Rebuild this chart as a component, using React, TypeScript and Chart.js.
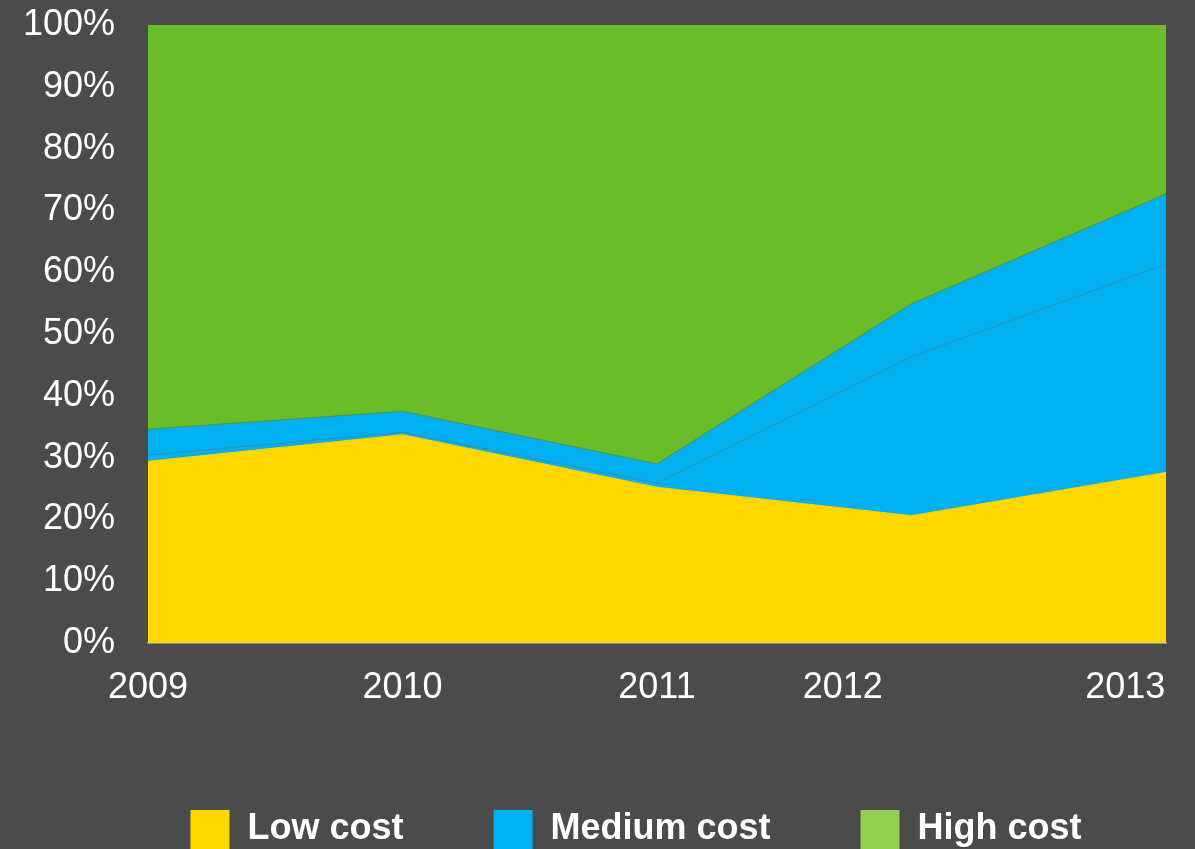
import React, { useEffect, useRef } from 'react';
import { Chart, registerables } from 'chart.js';

Chart.register(...registerables);

// ---- data ----
const categories = ['2009', '2010', '2011', '2012', '2013'];
const xTickLabels = ['2009', '2010', '2011', '2012', '2013'];
const xTickPositions = [0, 1, 2, 2.73, 3.84];
const lowCost = [29.4, 33.7, 25.2, 20.6, 27.6];
const mediumCostLower = [1.0, 0.4, 0.7, 25.7, 33.7];
const mediumCostUpper = [4.2, 3.4, 3.1, 8.6, 11.4];
const highCost = [65.4, 62.5, 71.0, 45.1, 27.3];
const legendNames = ['Low cost', 'Medium cost', 'High cost'];

// ---- styles ----
const BG = '#4B4B4B';
const LOW = '#FFD800';
const MED = '#00B0F0';
const HIGH = '#6ABD28';
const HIGH_LEGEND = '#92D050';
const legendColors = [LOW, MED, HIGH_LEGEND];
const FONT = "'Liberation Sans', Arial, sans-serif";

const toPoints = (arr: number[]) => arr.map((v, i) => ({ x: i, y: v }));

export default function App() {
  const ref = useRef<HTMLCanvasElement>(null);

  useEffect(() => {
    const canvas = ref.current;
    if (!canvas) return;
    const chart = new Chart(canvas, {
      type: 'line',
      data: {
        labels: categories,
        datasets: [
          { label: 'Low cost', data: toPoints(lowCost), backgroundColor: LOW, borderColor: LOW, borderWidth: 1, pointRadius: 0, fill: 'origin' },
          { label: 'Medium cost', data: toPoints(mediumCostLower), backgroundColor: MED, borderColor: '#2E94BC', borderWidth: 1, pointRadius: 0, fill: '-1' },
          { label: 'Medium cost ', data: toPoints(mediumCostUpper), backgroundColor: MED, borderColor: '#4E9C3E', borderWidth: 1, pointRadius: 0, fill: '-1' },
          { label: 'High cost', data: toPoints(highCost), backgroundColor: HIGH, borderColor: HIGH, borderWidth: 1, pointRadius: 0, fill: '-1' },
        ],
      },
      options: {
        responsive: false,
        animation: false,
        devicePixelRatio: 1,
        events: [],
        layout: { padding: { top: 25, left: 22, right: 0, bottom: 0 } },
        plugins: {
          tooltip: { enabled: false },
          legend: {
            position: 'bottom',
            align: 'center',
            labels: {
              boxWidth: 39,
              boxHeight: 39,
              padding: 90,
              color: '#FFFFFF',
              font: { family: FONT, size: 36, weight: 'bold' },
              generateLabels: () =>
                legendNames.map((t, i) => ({
                  text: t, fillStyle: legendColors[i], strokeStyle: legendColors[i], lineWidth: 0, hidden: false, fontColor: '#FFFFFF', datasetIndex: i,
                })),
            },
          },
        },
        scales: {
          x: {
            type: 'linear', min: 0, max: 4,
            afterBuildTicks: (s: any) => { s.ticks = xTickPositions.map((v) => ({ value: v })); },
            afterFit: (s: any) => { s.height = 77; },
            ticks: { autoSkip: false, maxRotation: 0, padding: 14, color: '#FFFFFF', font: { family: FONT, size: 36, lineHeight: 1.75 }, callback: (_v: any, i: number) => xTickLabels[i] },
            grid: { display: false, drawTicks: false },
            border: { display: true, color: '#8C8C8C', width: 2 },
          },
          y: {
            stacked: true, min: 0, max: 100,
            afterFit: (s: any) => { s.width = 126; s.paddingTop = 0; s.paddingBottom = 0; },
            ticks: { stepSize: 10, padding: 33, color: '#FFFFFF', font: { family: FONT, size: 36 }, callback: (v: any) => v + '%' },
            grid: { display: false, drawTicks: false },
            border: { display: false },
          },
          yRight: {
            position: 'right',
            display: true,
            afterFit: (s: any) => { s.width = 84; s.paddingTop = 0; s.paddingBottom = 0; },
            ticks: { display: false },
            grid: { display: false, drawTicks: false },
            border: { display: false },
          },
        },
      },
    } as any);
    return () => chart.destroy();
  }, []);

  return (
    <div style={{ position: 'fixed', left: 0, top: 0, width: 1195, height: 849, overflow: 'hidden', background: BG }}>
      <canvas ref={ref} width={1250} height={859} style={{ display: 'block' }} />
    </div>
  );
}
